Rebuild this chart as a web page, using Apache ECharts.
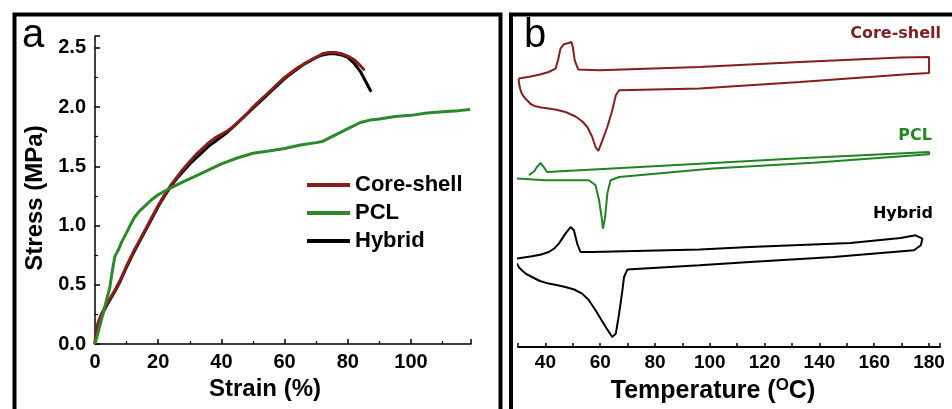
<!DOCTYPE html>
<html>
<head>
<meta charset="utf-8">
<script src="https://cdn.jsdelivr.net/npm/echarts@6/dist/echarts.min.js"></script>
<style>
html,body{margin:0;padding:0;background:#fff;}
#chart{width:952px;height:409px;}
</style>
</head>
<body>
<div id="chart"></div>
<script>
// ---------- Panel a: stress-strain curves [strain %, stress MPa] ----------
const coreShellCurve = [[0,0],[0.3,0.1],[1,0.18],[2,0.25],[4,0.35],[6,0.44],[8,0.54],[10,0.66],[12,0.77],[14,0.87],[16,0.97],[18,1.07],[20,1.17],[22,1.26],[24,1.34],[26,1.41],[28,1.48],[30,1.54],[32,1.6],[34,1.65],[36,1.7],[38,1.74],[40,1.77],[42,1.8],[44,1.84],[46,1.89],[48,1.94],[50,2.0],[52,2.05],[54,2.1],[56,2.15],[58,2.2],[60,2.25],[62,2.29],[64,2.33],[66,2.36],[68,2.39],[70,2.42],[72,2.45],[74,2.46],[76,2.46],[78,2.45],[80,2.43],[82,2.4],[84,2.35],[85.3,2.31]];
const pclCurve = [[0,0],[1,0.1],[2.6,0.26],[4.7,0.48],[5.5,0.62],[6.3,0.74],[7.5,0.8],[8.4,0.86],[10,0.94],[11.1,1.0],[12.5,1.07],[14,1.12],[16,1.17],[18,1.22],[20,1.26],[22.7,1.3],[25,1.33],[28,1.37],[32,1.42],[36,1.47],[40,1.52],[45,1.57],[50,1.61],[55,1.63],[60,1.65],[65,1.68],[70,1.7],[72,1.71],[75,1.75],[78,1.79],[81,1.83],[84,1.87],[87,1.89],[90,1.9],[95,1.92],[100,1.93],[105,1.95],[110,1.96],[115,1.97],[118.7,1.98]];
const hybridCurve = [[0,0],[0.3,0.09],[1,0.17],[2,0.24],[4,0.34],[6,0.43],[8,0.53],[10,0.65],[12,0.76],[14,0.86],[16,0.96],[18,1.06],[20,1.16],[22,1.25],[24,1.33],[26,1.4],[28,1.46],[30,1.52],[32,1.57],[34,1.62],[36,1.67],[38,1.71],[40,1.75],[42,1.79],[44,1.84],[46,1.89],[48,1.94],[50,1.99],[52,2.04],[54,2.09],[56,2.14],[58,2.19],[60,2.24],[62,2.28],[64,2.32],[66,2.36],[68,2.39],[70,2.42],[72,2.44],[74,2.45],[76,2.45],[78,2.44],[80,2.42],[82,2.37],[84,2.3],[85.8,2.21],[87.4,2.13]];
const seriesNamesA = ['Core-shell','PCL','Hybrid'];

// ---------- Panel b: DSC loops [temperature °C, heat flow (a.u., offset)] ----------
const coreShellDSC = [[30.2,26.84],[32.5,26.95],[35.1,27.07],[38,27.25],[41.2,27.5],[43.7,27.84],[44.6,28.67],[45.5,29.84],[46.7,30.27],[48.5,30.4],[49.5,30.5],[50,30.0],[50.7,28.67],[52,27.74],[59.6,27.67],[96.2,28.0],[132.9,28.5],[169.6,28.94],[180,29.0],[180,27.4],[172.1,27.27],[132.9,26.5],[96.2,25.84],[66.9,25.67],[65.7,25.17],[64.4,23.67],[62.6,22.0],[60.8,20.67],[59.3,19.6],[58.3,20.0],[57.1,21.0],[55.3,22.0],[53.5,22.55],[51,23.05],[47.3,23.5],[44,23.72],[41.2,23.84],[38.5,23.95],[36.3,24.07],[34.6,24.3],[33.3,24.67],[32.2,25.0],[31.4,25.34],[30.8,25.8],[30.5,26.17],[30.2,26.84]];
const pclDSC = [[34,17.17],[36,17.6],[36.9,18.0],[38.2,18.4],[39.4,18.0],[40.6,17.5],[64.4,17.85],[96.2,18.32],[132.9,18.87],[180,19.5],[180,19.27],[137.8,18.42],[101.1,17.84],[66.9,17.0],[63.8,16.67],[62.6,15.34],[61.8,13.0],[61.0,11.84],[60.5,13.0],[59.6,14.67],[58.3,16.17],[55.9,16.67],[40,16.67],[29.6,16.84]];
const hybridDSC = [[29.6,8.84],[35.1,9.07],[38.5,9.25],[41.2,9.5],[43.2,9.85],[44.9,10.34],[47.3,11.34],[49.2,12.0],[50.4,11.67],[51.6,10.34],[52.8,9.5],[57.1,9.5],[96.2,9.75],[114.6,10.0],[151.3,10.4],[169.6,10.9],[175.1,11.17],[177.6,10.84],[177.0,10.17],[174.5,9.67],[145.1,9.0],[114.6,8.5],[96.2,8.17],[69.9,7.74],[68.7,7.0],[68.1,5.67],[66.9,3.34],[65.7,1.34],[64.4,1.0],[62.0,2.0],[58.3,3.67],[55.8,4.7],[53.4,5.34],[50.5,5.75],[47.3,6.0],[44,6.2],[41.2,6.34],[38,6.6],[35.1,7.0],[33,7.3],[31.4,7.67],[30.4,7.95],[29.6,8.34]];
const dscLabels = ['Core-shell','PCL','Hybrid'];

const RED = '#8b1c1c', GREEN = '#2a8a2a', GREEN_B = '#218421', BLACK = '#000000';
const FONT = "'Liberation Sans', Arial, sans-serif";

const chart = echarts.init(document.getElementById('chart'), null, {renderer:'canvas'});
const tickLabel = (size) => ({color:'#000', fontFamily:FONT, fontWeight:'bold', fontSize:size});

chart.setOption({
  animation:false,
  backgroundColor:'#fff',
  grid:[
    {left:95, right:481, top:36, bottom:65},
    {left:518, right:12, top:15, bottom:62}
  ],
  xAxis:[
    {gridIndex:0, type:'value', min:0, max:119, interval:20,
     name:'Strain (%)', nameLocation:'middle', nameGap:31,
     nameTextStyle:{color:'#000', fontFamily:FONT, fontWeight:'bold', fontSize:24, padding:[0,36,0,0]},
     axisLine:{lineStyle:{color:'#000', width:1.5}},
     axisTick:{inside:true, length:5, lineStyle:{color:'#000', width:1.5}},
     minorTick:{show:true, splitNumber:2, length:3, lineStyle:{color:'#000', width:1.2}},
     splitLine:{show:false},
     axisLabel:Object.assign(tickLabel(20), {margin:8, formatter:v => (v % 20 === 0 ? String(v) : '')})},
    {gridIndex:1, type:'value', min:30, max:184, interval:10,
     name:'Temperature ({sup|O}C)', nameLocation:'middle', nameGap:29,
     nameTextStyle:{color:'#000', fontFamily:FONT, fontWeight:'bold', fontSize:25, padding:[0,32,0,0],
       rich:{sup:{fontFamily:FONT, fontWeight:'bold', fontSize:17, verticalAlign:'top', padding:[0,0,12,0], color:'#000'}}},
     axisLine:{lineStyle:{color:'#000', width:2}},
     axisTick:{inside:true, length:4, lineStyle:{color:'#000', width:1.5}},
     splitLine:{show:false},
     axisLabel:Object.assign(tickLabel(19), {margin:6, formatter:v => (v % 20 === 0 && v >= 40 && v <= 180 ? String(v) : '')})}
  ],
  yAxis:[
    {gridIndex:0, type:'value', min:0, max:2.6, interval:0.5,
     name:'Stress (MPa)', nameLocation:'middle', nameGap:48,
     nameTextStyle:{color:'#000', fontFamily:FONT, fontWeight:'bold', fontSize:24, padding:[0,16,0,0]},
     axisLine:{show:true, lineStyle:{color:'#000', width:1.5}},
     axisTick:{inside:true, length:5, lineStyle:{color:'#000', width:1.5}},
     minorTick:{show:true, splitNumber:2, length:3, lineStyle:{color:'#000', width:1.2}},
     splitLine:{show:false},
     axisLabel:Object.assign(tickLabel(20), {margin:9, formatter:v => (Math.abs(v*2 - Math.round(v*2)) < 1e-6 ? v.toFixed(1) : '')})},
    {gridIndex:1, type:'value', min:0, max:33.2, show:false, splitLine:{show:false}}
  ],
  legend:{
    orient:'vertical', left:302, top:169, itemWidth:43, itemHeight:4, itemGap:6, icon:'rect',
    data:seriesNamesA,
    textStyle:{color:'#000', fontFamily:FONT, fontWeight:'bold', fontSize:22}
  },
  series:[
    {name:seriesNamesA[2], type:'line', xAxisIndex:0, yAxisIndex:0, data:hybridCurve, showSymbol:false, symbol:'none', color:BLACK, lineStyle:{width:3, color:BLACK}},
    {name:seriesNamesA[0], type:'line', xAxisIndex:0, yAxisIndex:0, data:coreShellCurve, showSymbol:false, symbol:'none', color:RED, lineStyle:{width:3, color:RED}},
    {name:seriesNamesA[1], type:'line', xAxisIndex:0, yAxisIndex:0, data:pclCurve, showSymbol:false, symbol:'none', color:GREEN, lineStyle:{width:3, color:GREEN}},
    {name:dscLabels[0]+' DSC', type:'line', xAxisIndex:1, yAxisIndex:1, data:coreShellDSC, showSymbol:false, symbol:'none', color:RED, lineStyle:{width:2, color:RED}},
    {name:dscLabels[1]+' DSC', type:'line', xAxisIndex:1, yAxisIndex:1, data:pclDSC, showSymbol:false, symbol:'none', color:GREEN_B, lineStyle:{width:2, color:GREEN_B}},
    {name:dscLabels[2]+' DSC', type:'line', xAxisIndex:1, yAxisIndex:1, data:hybridDSC, showSymbol:false, symbol:'none', color:BLACK, lineStyle:{width:2, color:BLACK}}
  ],
  graphic:[
    {type:'rect', silent:true, shape:{x:14.5, y:14.5, width:486, height:430}, style:{fill:'none', stroke:'#000', lineWidth:4}},
    {type:'rect', silent:true, shape:{x:511, y:14.5, width:470, height:430}, style:{fill:'none', stroke:'#000', lineWidth:4}},
    {type:'text', silent:true, style:{text:'a', x:22, y:36, verticalAlign:'middle', font:"40px 'Liberation Sans', Arial, sans-serif", fill:'#000'}},
    {type:'text', silent:true, style:{text:'b', x:524, y:36, verticalAlign:'middle', font:"40px 'Liberation Sans', Arial, sans-serif", fill:'#000'}},
    {type:'text', silent:true, style:{text:dscLabels[0], x:941, y:34, align:'right', verticalAlign:'middle', font:"bold 16px 'DejaVu Sans', sans-serif", fill:'#7f1d1d'}},
    {type:'text', silent:true, style:{text:dscLabels[1], x:932, y:136, align:'right', verticalAlign:'middle', font:"bold 16px 'DejaVu Sans', sans-serif", fill:'#1f8a1f'}},
    {type:'text', silent:true, style:{text:dscLabels[2], x:933, y:214, align:'right', verticalAlign:'middle', font:"bold 16px 'DejaVu Sans', sans-serif", fill:'#000'}}
  ]
});
</script>
</body>
</html>
